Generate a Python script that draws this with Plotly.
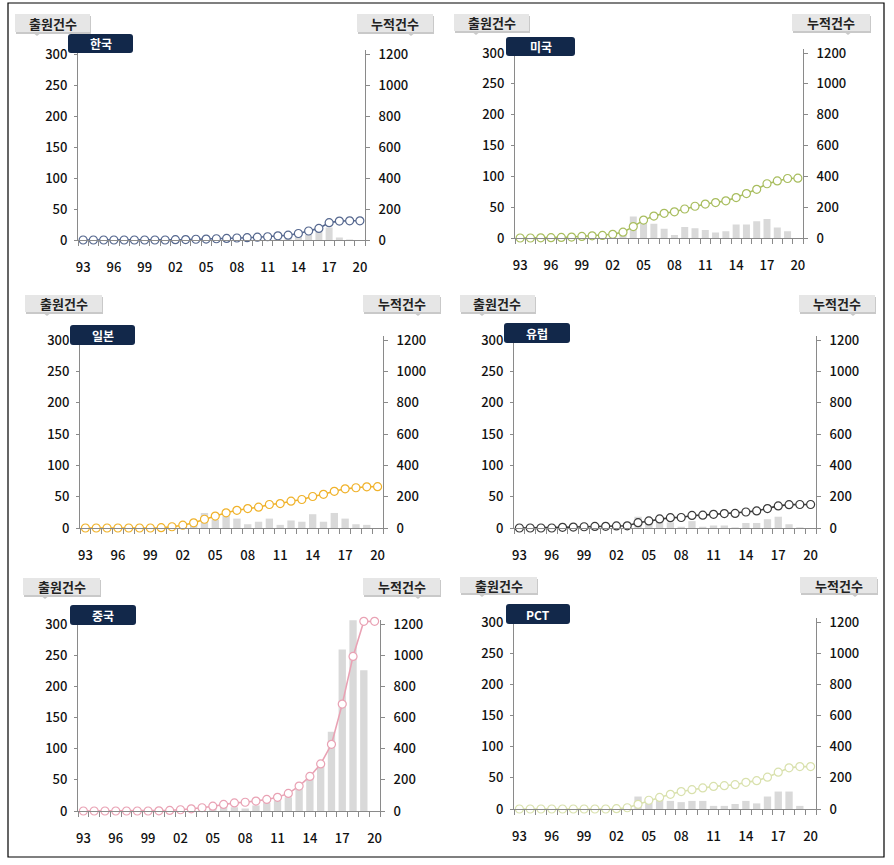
import plotly.graph_objects as go

W, H = 894, 865

years = list(range(1993, 2021))
tick_years = [1993, 1996, 1999, 2002, 2005, 2008, 2011, 2014, 2017, 2020]
tick_labels = ["93", "96", "99", "02", "05", "08", "11", "14", "17", "20"]
left_ticks = [0, 50, 100, 150, 200, 250, 300]
right_ticks = [0, 200, 400, 600, 800, 1000, 1200]

panel_names = ["한국", "미국", "일본", "유럽", "중국", "PCT"]
left_title = "출원건수"
right_title = "누적건수"

kr_annual = [0, 0, 0, 0, 0, 0, 0, 0, 1, 1, 2, 2, 1, 2, 2, 2, 3, 2, 3, 5, 3, 6, 8, 13, 20, 4, 1, 0]
kr_cum = [0, 0, 0, 0, 0, 0, 0, 0, 0, 2, 3, 5, 6, 8, 10, 13, 15, 18, 21, 27, 31, 42, 58, 75, 112, 122, 124, 124]

us_annual = [0, 0, 1, 1, 2, 2, 3, 4, 3, 6, 12, 35, 30, 23, 15, 5, 18, 16, 13, 9, 11, 22, 22, 27, 31, 17, 11, 0]
us_cum = [0, 0, 1, 2, 4, 6, 10, 14, 17, 24, 38, 74, 116, 142, 160, 170, 188, 206, 220, 230, 241, 262, 288, 316, 352, 370, 386, 388]

jp_annual = [0, 0, 0, 0, 0, 0, 0, 1, 3, 5, 8, 24, 13, 19, 15, 6, 10, 15, 5, 12, 10, 22, 10, 24, 15, 6, 5, 0]
jp_cum = [0, 0, 0, 0, 0, 0, 0, 2, 8, 18, 33, 56, 76, 97, 113, 124, 133, 150, 156, 171, 182, 201, 215, 234, 250, 257, 263, 264]

eu_annual = [0, 0, 0, 0, 1, 1, 1, 1, 1, 2, 3, 18, 12, 10, 9, 2, 11, 2, 4, 4, 1, 8, 8, 14, 18, 6, 1, 0]
eu_cum = [0, 0, 0, 0, 4, 6, 8, 10, 11, 13, 14, 34, 45, 58, 66, 67, 80, 82, 87, 92, 93, 102, 109, 124, 141, 149, 150, 150]

cn_annual = [0, 0, 0, 0, 0, 0, 0, 1, 2, 3, 3, 4, 5, 8, 6, 4, 9, 13, 17, 22, 39, 55, 80, 127, 259, 310, 226, 0]
cn_cum = [0, 0, 0, 0, 0, 0, 0, 1, 4, 8, 14, 21, 31, 42, 52, 56, 64, 74, 88, 113, 160, 222, 302, 428, 686, 992, 1217, 1217]

pct_annual = [0, 0, 0, 0, 0, 0, 0, 0, 0, 1, 3, 20, 10, 19, 13, 11, 13, 13, 5, 5, 8, 13, 9, 20, 28, 28, 5, 0]
pct_cum = [0, 0, 0, 0, 0, 0, 0, 0, 0, 2, 8, 30, 56, 74, 94, 112, 124, 135, 145, 150, 156, 171, 182, 204, 236, 264, 272, 272]

annual_series = [kr_annual, us_annual, jp_annual, eu_annual, cn_annual, pct_annual]
cum_series = [kr_cum, us_cum, jp_cum, eu_cum, cn_cum, pct_cum]
line_colors = ["#56688f", "#a8bd5e", "#f0b22a", "#3a3a3a", "#e9a2b4", "#d9e1ad"]
bar_color = "#d9d9d9"

# headroom above the top tick so that the last points are not clipped
HEAD = 1.02

# panel geometry in pixels: (left axis x, right axis x, top y (300), zero y)
panels = [
    (78, 365, 54, 240),
    (515, 803, 53, 238),
    (80, 383, 340, 528),
    (514, 816, 340, 528),
    (78, 380, 624, 811),
    (514, 816, 622, 809),
]
# header label boxes: (left box x0, x1, right box x0, x1, y0, y1)
headers = [
    (15, 90, 357, 433, 14, 32),
    (454, 529, 792, 870, 14, 31),
    (25, 102, 363, 440, 295, 312),
    (460, 535, 799, 875, 295, 312),
    (23, 100, 363, 440, 578, 595),
    (460, 537, 800, 877, 577, 593),
]
# dark title boxes: (x0, x1, y0, y1)
titles = [
    (68, 133, 34, 53),
    (506, 575, 37, 56),
    (70, 135, 325, 345),
    (504, 570, 323, 343),
    (70, 136, 605, 625),
    (506, 570, 604, 624),
]


def px(x):
    return x / W


def py(y):
    return 1 - y / H


FONT = "Noto Sans CJK KR"
TICKFONT = dict(family=FONT, size=13, color="#111111", weight=500)
fig = go.Figure()
layout = {}
shapes = []
annotations = []

for i in range(6):
    n = i + 1
    xa = "x" if n == 1 else f"x{n}"
    yl = "y" if i == 0 else f"y{2 * i + 1}"
    yr = f"y{2 * i + 2}"
    xl, xr, yt, y0 = panels[i]
    ytop_px = y0 - (y0 - yt) * HEAD

    fig.add_trace(go.Bar(x=years, y=annual_series[i], xaxis=xa, yaxis=yl,
                         marker=dict(color=bar_color, line=dict(width=0)),
                         width=0.68, showlegend=False, hoverinfo="x+y"))
    fig.add_trace(go.Scatter(x=years, y=cum_series[i], xaxis=xa, yaxis=yr,
                             mode="lines+markers", cliponaxis=False,
                             line=dict(color=line_colors[i], width=1.6),
                             marker=dict(symbol="circle", size=8, color="white",
                                         line=dict(color=line_colors[i], width=1.2)),
                             showlegend=False, hoverinfo="x+y"))

    xkey = "xaxis" if n == 1 else f"xaxis{n}"
    ylkey = "yaxis" if i == 0 else f"yaxis{2 * i + 1}"
    yrkey = f"yaxis{2 * i + 2}"

    layout[xkey] = dict(
        domain=[px(xl), px(xr)], anchor=yl, range=[1992.5, 2020.5],
        tickmode="array", tickvals=tick_years, ticktext=tick_labels,
        ticks="", showgrid=False, zeroline=False, automargin=False,
        showline=True, linecolor="#8a8a8a", linewidth=1,
        tickfont=TICKFONT, ticklabelstandoff=15,
        minor=dict(ticks="outside", tick0=1992.5, dtick=1, ticklen=5,
                   tickcolor="#8a8a8a", tickwidth=1, showgrid=False),
        fixedrange=True,
    )
    layout[ylkey] = dict(
        domain=[py(y0), py(ytop_px)], anchor=xa, range=[0, 300 * HEAD],
        tickmode="array", tickvals=left_ticks,
        ticks="outside", ticklen=3, tickcolor="#8a8a8a",
        showgrid=False, zeroline=False, automargin=False,
        showline=True, linecolor="#8a8a8a", linewidth=1,
        tickfont=TICKFONT, ticklabelstandoff=4, fixedrange=True,
    )
    layout[yrkey] = dict(
        domain=[py(y0), py(ytop_px)], anchor=xa, overlaying=yl, side="right",
        range=[0, 1200 * HEAD], tickmode="array", tickvals=right_ticks,
        ticks="outside", ticklen=4, tickcolor="#8a8a8a",
        showgrid=False, zeroline=False, automargin=False,
        showline=True, linecolor="#8a8a8a", linewidth=1,
        tickfont=TICKFONT, ticklabelstandoff=6, fixedrange=True,
    )

    # header label boxes
    lx0, lx1, rx0, rx1, hy0, hy1 = headers[i]
    for (bx0, bx1, txt, tipx) in [(lx0, lx1, left_title, lx0 + 22), (rx0, rx1, right_title, rx1 - 22)]:
        shapes.append(dict(type="rect", xref="paper", yref="paper",
                           x0=px(bx0 + 1), x1=px(bx1 + 1), y0=py(hy1 + 2), y1=py(hy0 + 2),
                           fillcolor="#c9c9c9", line=dict(width=0), layer="below"))
        shapes.append(dict(type="rect", xref="paper", yref="paper",
                           x0=px(bx0), x1=px(bx1), y0=py(hy1), y1=py(hy0),
                           fillcolor="#e6e6e6", line=dict(width=0), layer="below"))
        shapes.append(dict(type="path", xref="paper", yref="paper",
                           path=f"M {px(tipx - 5)} {py(hy1)} L {px(tipx + 5)} {py(hy1)} L {px(tipx)} {py(hy1 + 4)} Z",
                           fillcolor="#c9c9c9", line=dict(width=0), layer="below"))
        annotations.append(dict(xref="paper", yref="paper", x=px((bx0 + bx1) / 2), y=py((hy0 + hy1) / 2),
                                text=f"<b>{txt}</b>", showarrow=False, xanchor="center", yanchor="middle",
                                font=dict(family=FONT, size=13, color="#222222")))

    # dark title box
    tx0, tx1, ty0, ty1 = titles[i]
    r = 3
    path = (f"M {px(tx0 + r)} {py(ty0)} L {px(tx1 - r)} {py(ty0)} "
            f"Q {px(tx1)} {py(ty0)} {px(tx1)} {py(ty0 + r)} L {px(tx1)} {py(ty1 - r)} "
            f"Q {px(tx1)} {py(ty1)} {px(tx1 - r)} {py(ty1)} L {px(tx0 + r)} {py(ty1)} "
            f"Q {px(tx0)} {py(ty1)} {px(tx0)} {py(ty1 - r)} L {px(tx0)} {py(ty0 + r)} "
            f"Q {px(tx0)} {py(ty0)} {px(tx0 + r)} {py(ty0)} Z")
    shapes.append(dict(type="path", xref="paper", yref="paper", path=path,
                       fillcolor="#12284a", line=dict(width=0), layer="above"))
    annotations.append(dict(xref="paper", yref="paper", x=px((tx0 + tx1) / 2), y=py((ty0 + ty1) / 2),
                            text=f"<b>{panel_names[i]}</b>", showarrow=False,
                            xanchor="center", yanchor="middle",
                            font=dict(family=FONT, size=12, color="white")))

# outer border
shapes.append(dict(type="rect", xref="paper", yref="paper",
                   x0=px(8), x1=px(884), y0=py(857), y1=py(3),
                   line=dict(color="#000000", width=1.2), fillcolor="rgba(0,0,0,0)"))

fig.update_layout(
    width=W, height=H,
    margin=dict(l=0, r=0, t=0, b=0, pad=0, autoexpand=False),
    paper_bgcolor="white", plot_bgcolor="white",
    shapes=shapes, annotations=annotations,
    bargap=0.3, showlegend=False,
    **layout,
)

fig.write_html("out.html",
               config={"displayModeBar": False, "staticPlot": True},
               post_script="document.body.style.margin='0';document.body.style.overflow='hidden';")
